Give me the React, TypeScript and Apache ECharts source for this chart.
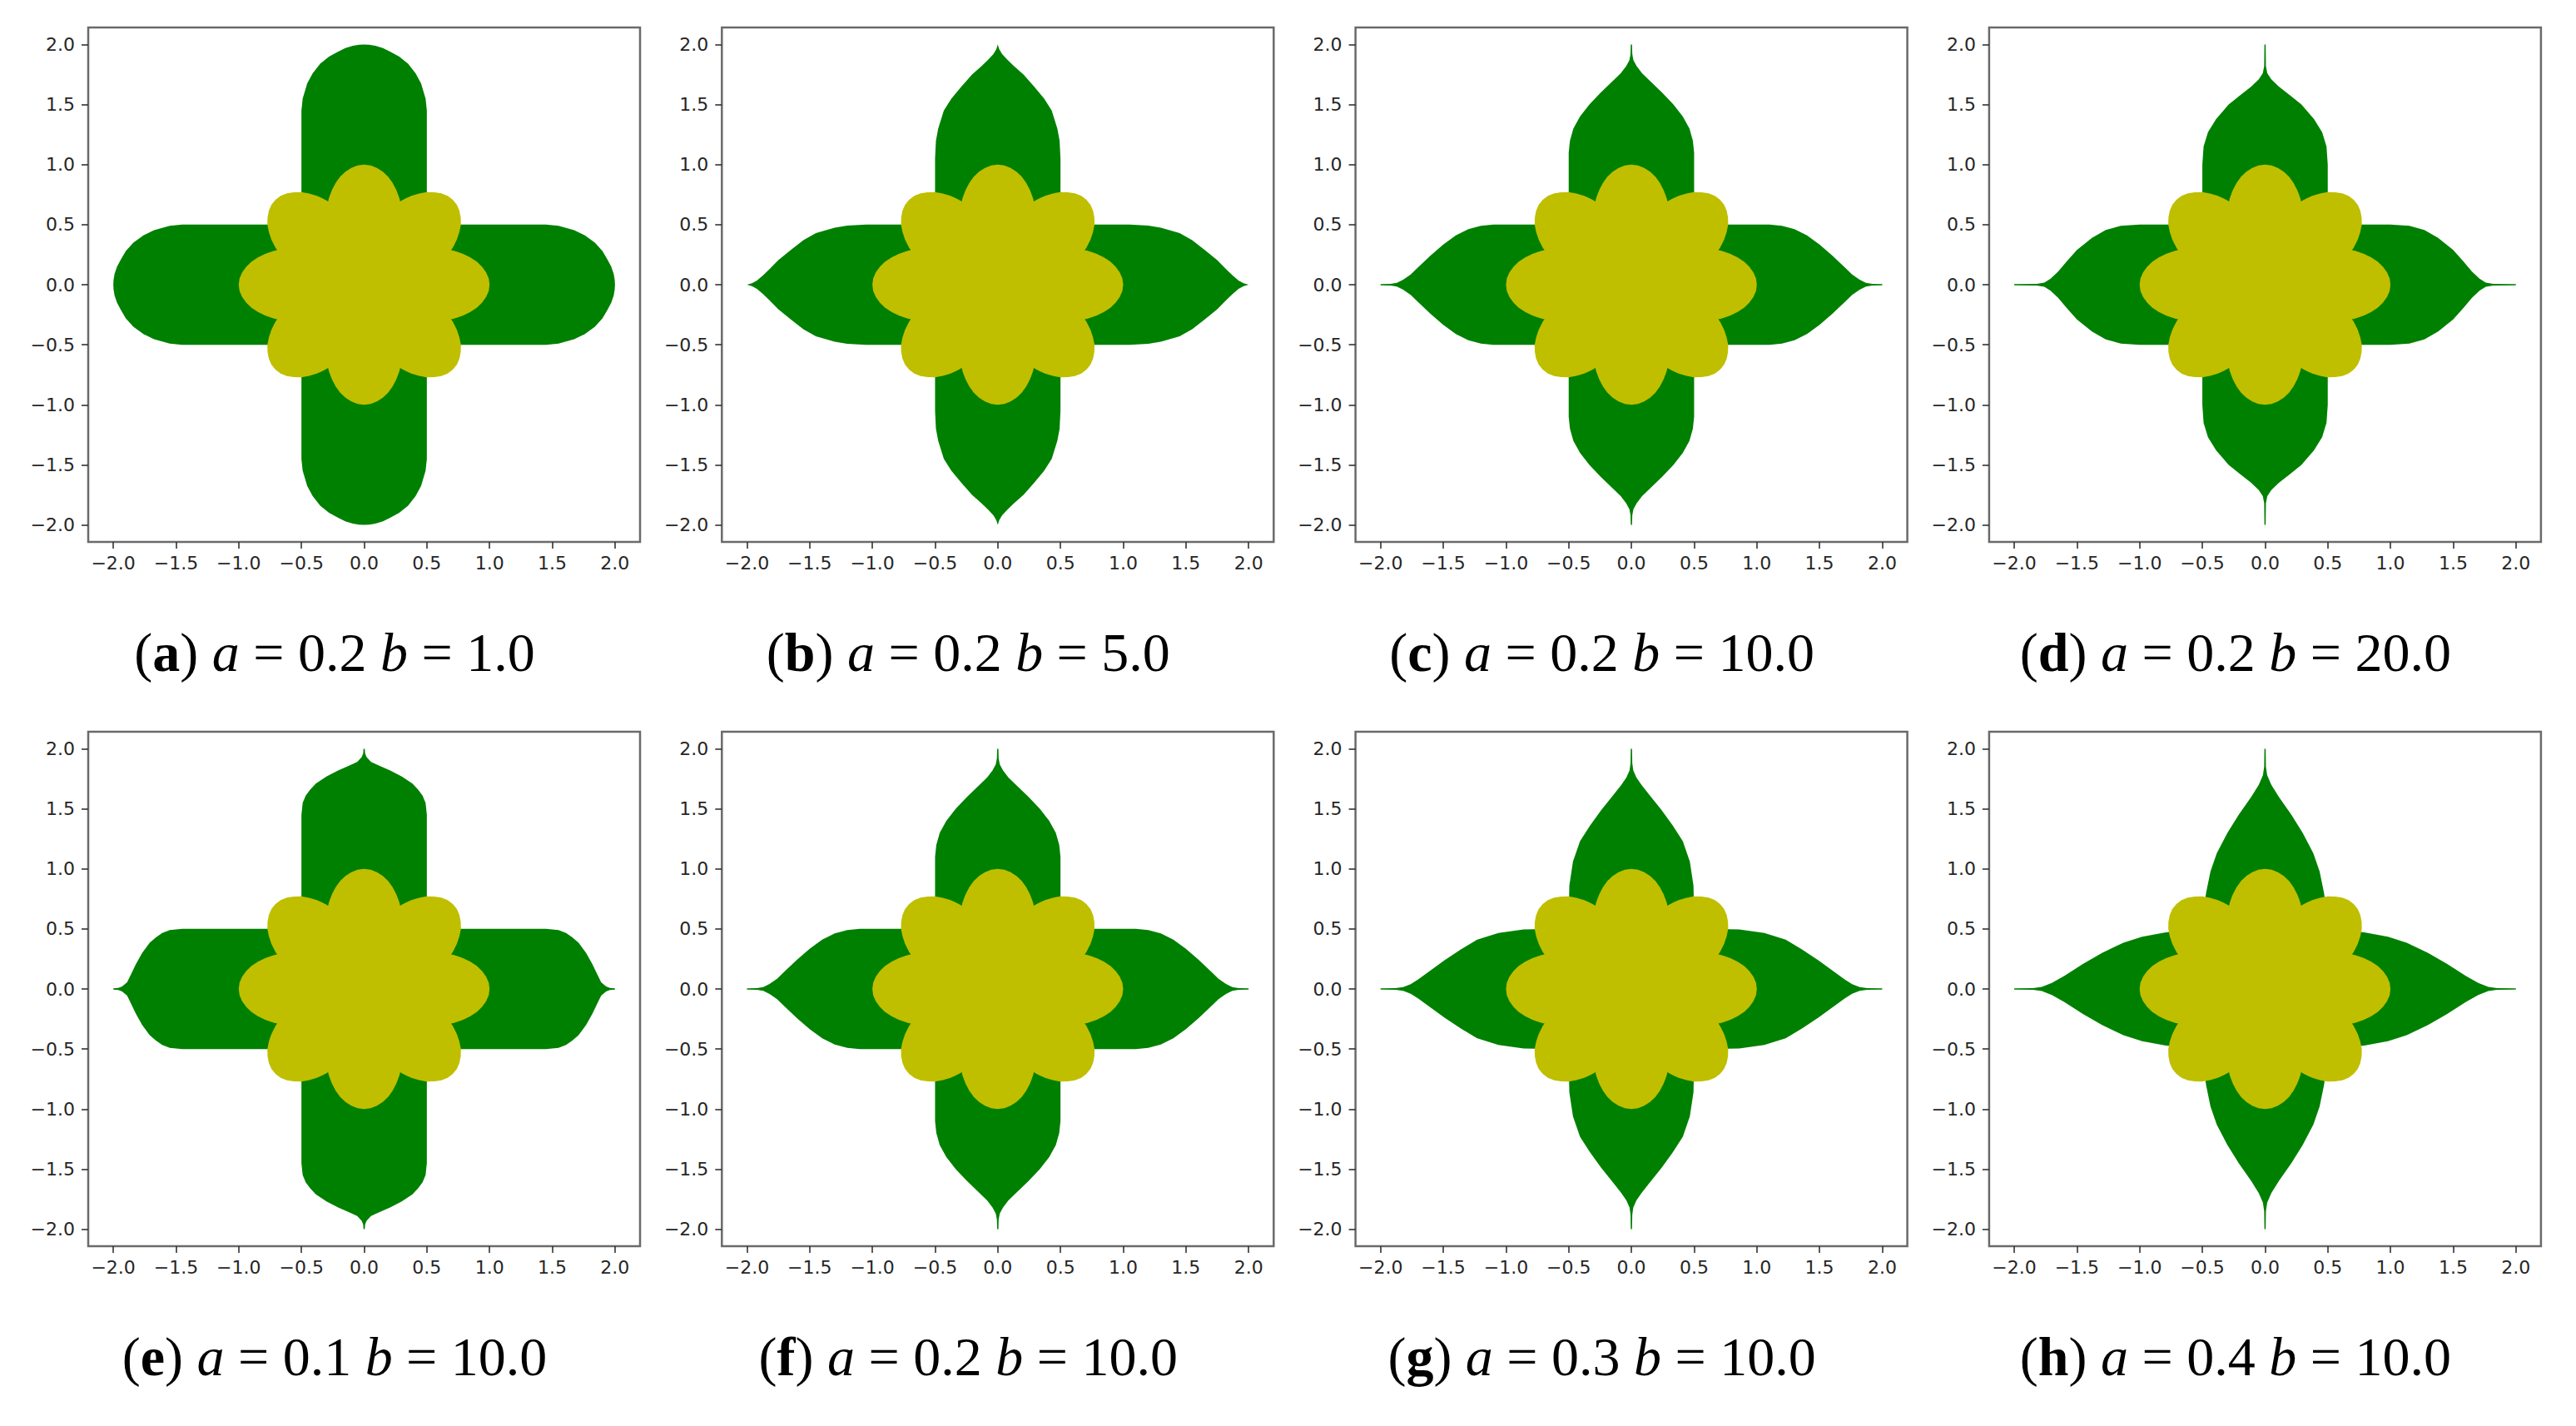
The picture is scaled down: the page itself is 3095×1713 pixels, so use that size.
import React, { useEffect, useRef } from "react";
import * as echarts from "echarts";

// ---------- data ----------
const panelLetters = ["a", "b", "c", "d", "e", "f", "g", "h"];
const paramA = ["0.2", "0.2", "0.2", "0.2", "0.1", "0.2", "0.3", "0.4"];
const paramB = ["1.0", "5.0", "10.0", "20.0", "10.0", "10.0", "10.0", "10.0"];
const tickValues = [-2, -1.5, -1, -0.5, 0, 0.5, 1, 1.5, 2];

// half-width of one arm of the green cross vs distance from centre [t, w]
const armA02B1 = [[0, 0.5], [1.45, 0.5], [1.55, 0.49], [1.675, 0.454], [1.76, 0.41], [1.84, 0.35], [1.9, 0.28], [1.94, 0.21], [1.97, 0.15], [1.99, 0.09], [1.998, 0.04], [2.0, 0]];
const armA02B5 = [[0, 0.5], [1.05, 0.5], [1.2, 0.493], [1.3, 0.475], [1.45, 0.43], [1.55, 0.37], [1.65, 0.29], [1.75, 0.205], [1.82, 0.13], [1.87, 0.08], [1.92, 0.035], [1.96, 0.012], [2.0, 0]];
const armA02B10 = [[0, 0.5], [1.1, 0.5], [1.2, 0.49], [1.3, 0.463], [1.4, 0.41], [1.5, 0.335], [1.6, 0.245], [1.7, 0.145], [1.76, 0.085], [1.82, 0.042], [1.87, 0.016], [1.92, 0.007], [2.0, 0.005]];
const armA02B20 = [[0, 0.5], [1.0, 0.5], [1.15, 0.49], [1.27, 0.455], [1.38, 0.39], [1.5, 0.29], [1.58, 0.195], [1.65, 0.11], [1.71, 0.05], [1.76, 0.018], [1.82, 0.007], [2.0, 0.005]];
const armA01B10 = [[0, 0.5], [1.45, 0.5], [1.55, 0.49], [1.61, 0.466], [1.66, 0.43], [1.71, 0.385], [1.77, 0.3], [1.82, 0.207], [1.86, 0.12], [1.89, 0.055], [1.93, 0.02], [1.96, 0.008], [2.0, 0.005]];
const armA03B10 = [[0, 0.5], [0.6, 0.5], [0.86, 0.495], [1.06, 0.466], [1.23, 0.41], [1.36, 0.33], [1.49, 0.24], [1.62, 0.14], [1.7, 0.08], [1.76, 0.04], [1.82, 0.015], [1.88, 0.007], [2.0, 0.005]];
const armA04B10 = [[0, 0.5], [0.5, 0.5], [0.65, 0.49], [0.8, 0.47], [0.98, 0.435], [1.13, 0.385], [1.3, 0.3], [1.45, 0.21], [1.6, 0.11], [1.7, 0.05], [1.78, 0.017], [1.85, 0.007], [2.0, 0.005]];
const panelArms = [armA02B1, armA02B5, armA02B10, armA02B20, armA01B10, armA02B10, armA03B10, armA04B10];

// half of one petal of the yellow flower: [angle in degrees from petal axis, radius]
const petalHalf = [[0, 1.0], [3, 0.995], [6, 0.978], [9, 0.952], [12, 0.92], [15, 0.877], [18, 0.83], [20, 0.795], [21.5, 0.77], [22.5, 0.75]];
const petalAxesDeg = [0, 45, 90, 135, 180, 225, 270, 315];

// ---------- layout (not data) ----------
const PAGE_W = 3095;
const PAGE_H = 1713;
const COL_LEFT0 = 106;
const COL_STEP = 761.3;
const ROW_TOP = [33, 879];
const GRID_W = 663;
const GRID_H = 618;
const CAPTION_X0 = 402;
const CAPTION_Y = [783, 1629];
const CAPTION_SIZE = 66;
const GREEN = "#008000";
const YELLOW = "#bfbf00";

function armPolygon(profile: number[][], vertical: boolean): number[][] {
  const pts: number[][] = [];
  for (let i = profile.length - 1; i >= 0; i--) pts.push([-profile[i][0], profile[i][1]]);
  for (let i = 1; i < profile.length; i++) pts.push([profile[i][0], profile[i][1]]);
  for (let i = profile.length - 1; i >= 0; i--) pts.push([profile[i][0], -profile[i][1]]);
  for (let i = 1; i < profile.length; i++) pts.push([-profile[i][0], -profile[i][1]]);
  return vertical ? pts.map(([x, y]) => [y, x]) : pts;
}

function flowerPolygon(): number[][] {
  const pts: number[][] = [];
  petalAxesDeg.forEach((c) => {
    for (let i = petalHalf.length - 1; i >= 1; i--) pts.push([c - petalHalf[i][0], petalHalf[i][1]]);
    for (let i = 0; i < petalHalf.length - 1; i++) pts.push([c + petalHalf[i][0], petalHalf[i][1]]);
  });
  return pts.map(([deg, r]) => {
    const a = (deg * Math.PI) / 180;
    return [r * Math.cos(a), r * Math.sin(a)];
  });
}

const fmt = (v: number) => {
  const s = Math.abs(v).toFixed(1);
  return v < -1e-9 ? "\u2212" + s : s;
};

function buildOption() {
  const grids: any[] = [];
  const xAxes: any[] = [];
  const yAxes: any[] = [];
  const series: any[] = [];
  const graphics: any[] = [];
  const flower = flowerPolygon();

  const labelStyle = { fontSize: 22, color: "#262626", fontFamily: "DejaVu Sans" };
  const serif = "Liberation Serif";

  panelLetters.forEach((letter, i) => {
    const col = i % 4;
    const row = Math.floor(i / 4);
    grids.push({
      left: COL_LEFT0 + col * COL_STEP,
      top: ROW_TOP[row],
      width: GRID_W,
      height: GRID_H,
      show: true,
      borderColor: "#6a6a6a",
      borderWidth: 2.5,
      backgroundColor: "#ffffff",
      containLabel: false,
      outerBoundsMode: "none",
    });
    xAxes.push({
      gridIndex: i,
      type: "value",
      min: -2.2,
      max: 2.2,
      axisLine: { show: false, onZero: false },
      splitLine: { show: false },
      axisTick: { show: true, inside: false, length: 8, lineStyle: { color: "#333", width: 1.6 }, customValues: tickValues },
      axisLabel: { ...labelStyle, margin: 14, customValues: tickValues, formatter: fmt },
    });
    yAxes.push({
      gridIndex: i,
      type: "value",
      min: -2.142,
      max: 2.142,
      axisLine: { show: false, onZero: false },
      splitLine: { show: false },
      axisTick: { show: true, inside: false, length: 8, lineStyle: { color: "#333", width: 1.6 }, customValues: tickValues },
      axisLabel: { ...labelStyle, margin: 16, customValues: tickValues, formatter: fmt },
    });

    const shapes = [
      { poly: armPolygon(panelArms[i], false), color: GREEN, z: 2 },
      { poly: armPolygon(panelArms[i], true), color: GREEN, z: 2 },
      { poly: flower, color: YELLOW, z: 3 },
    ];
    shapes.forEach((s) => {
      series.push({
        type: "custom",
        xAxisIndex: i,
        yAxisIndex: i,
        coordinateSystem: "cartesian2d",
        z: s.z,
        silent: true,
        data: [[0, 0]],
        renderItem: (_params: any, api: any) => ({
          type: "polygon",
          shape: { points: s.poly.map((p) => api.coord(p)) },
          style: { fill: s.color, stroke: null },
        }),
      });
    });

    graphics.push({
      type: "text",
      x: CAPTION_X0 + col * COL_STEP,
      y: CAPTION_Y[row],
      style: {
        text: `{n|(}{b|${letter}}{n|)} {i|a}{n| = ${paramA[i]} }{i|b}{n| = ${paramB[i]}}`,
        align: "center",
        verticalAlign: "middle",
        fill: "#000",
        fontSize: CAPTION_SIZE,
        fontFamily: serif,
        rich: {
          n: { fontSize: CAPTION_SIZE, fontFamily: serif, fill: "#000", color: "#000" },
          b: { fontSize: CAPTION_SIZE, fontFamily: serif, fontWeight: "bold", fill: "#000", color: "#000" },
          i: { fontSize: CAPTION_SIZE, fontFamily: serif, fontStyle: "italic", fill: "#000", color: "#000" },
        },
      },
    });
  });

  return {
    animation: false,
    backgroundColor: "#ffffff",
    grid: grids,
    xAxis: xAxes,
    yAxis: yAxes,
    series,
    graphic: graphics,
  };
}

export default function App() {
  const ref = useRef<HTMLDivElement>(null);
  useEffect(() => {
    if (!ref.current) return;
    const chart = echarts.init(ref.current, undefined, { renderer: "svg" });
    chart.setOption(buildOption() as any);
    return () => chart.dispose();
  }, []);
  return (
    <div
      ref={ref}
      style={{ position: "fixed", left: 0, top: 0, width: PAGE_W, height: PAGE_H, background: "#fff" }}
    />
  );
}
